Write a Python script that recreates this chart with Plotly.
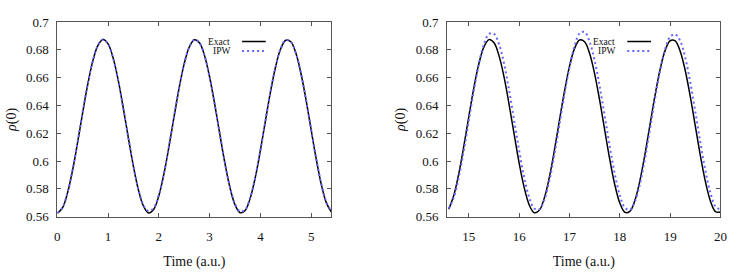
import plotly.graph_objects as go

# ---- data ----
t_left = [round(0.1 * i, 1) for i in range(55)]
exact_left = [0.5625, 0.5662, 0.5769, 0.5933, 0.6135, 0.6350, 0.6554, 0.6721, 0.6833, 0.6875,
              0.6843, 0.6741, 0.6580, 0.6380, 0.6165, 0.5960, 0.5789, 0.5673, 0.5626, 0.5653,
              0.5750, 0.5907, 0.6105, 0.6320, 0.6527, 0.6701, 0.6821, 0.6873, 0.6852, 0.6759,
              0.6605, 0.6410, 0.6195, 0.5987, 0.5810, 0.5685, 0.5628, 0.5644, 0.5733, 0.5882,
              0.6076, 0.6290, 0.6499, 0.6679, 0.6808, 0.6870, 0.6859, 0.6776, 0.6630, 0.6439,
              0.6225, 0.6015, 0.5832, 0.5699, 0.5632]
ipw_left = [0.5626, 0.5664, 0.5772, 0.5937, 0.6139, 0.6354, 0.6557, 0.6723, 0.6834, 0.6875,
            0.6842, 0.6739, 0.6578, 0.6379, 0.6165, 0.5962, 0.5793, 0.5679, 0.5640, 0.5664,
            0.5757, 0.5912, 0.6109, 0.6323, 0.6529, 0.6702, 0.6821, 0.6873, 0.6851, 0.6758,
            0.6604, 0.6410, 0.6197, 0.5991, 0.5815, 0.5692, 0.5637, 0.5651, 0.5738, 0.5885,
            0.6078, 0.6291, 0.6500, 0.6679, 0.6808, 0.6870, 0.6859, 0.6776, 0.6630, 0.6440,
            0.6227, 0.6018, 0.5836, 0.5704, 0.5637]

t_right = [round(14.6 + 0.1 * i, 1) for i in range(55)]
exact_right = [0.5653, 0.5752, 0.5909, 0.6107, 0.6322, 0.6529, 0.6702, 0.6822, 0.6874, 0.6851,
               0.6757, 0.6604, 0.6407, 0.6193, 0.5985, 0.5809, 0.5684, 0.5628, 0.5645, 0.5734,
               0.5884, 0.6078, 0.6292, 0.6501, 0.6681, 0.6809, 0.6871, 0.6859, 0.6775, 0.6628,
               0.6437, 0.6223, 0.6013, 0.5830, 0.5698, 0.5631, 0.5638, 0.5717, 0.5860, 0.6049,
               0.6262, 0.6473, 0.6658, 0.6795, 0.6866, 0.6865, 0.6791, 0.6652, 0.6466, 0.6254,
               0.6041, 0.5854, 0.5713, 0.5636, 0.5633]
ipw_right = [0.5658, 0.5737, 0.5882, 0.6075, 0.6293, 0.6510, 0.6700, 0.6841, 0.6915, 0.6915,
             0.6841, 0.6700, 0.6510, 0.6293, 0.6075, 0.5882, 0.5737, 0.5658, 0.5652, 0.5722,
             0.5859, 0.6046, 0.6262, 0.6480, 0.6675, 0.6826, 0.6918, 0.6930, 0.6858, 0.6723,
             0.6538, 0.6324, 0.6105, 0.5907, 0.5754, 0.5664, 0.5648, 0.5708, 0.5836, 0.6017,
             0.6231, 0.6450, 0.6650, 0.6805, 0.6895, 0.6912, 0.6865, 0.6745, 0.6567, 0.6355,
             0.6135, 0.5933, 0.5772, 0.5673, 0.5652]

y_ticks = [0.56, 0.58, 0.6, 0.62, 0.64, 0.66, 0.68, 0.7]
y_ticklabels = ["0.56", "0.58", "0.6", "0.62", "0.64", "0.66", "0.68", "0.7"]
x_ticks_left = [0, 1, 2, 3, 4, 5]
x_ticks_right = [15, 16, 17, 18, 19, 20]
legend_names = ["Exact", "IPW"]

EXACT_COLOR = "#000000"
IPW_COLOR = "#6666ff"
IPW_DASH = "2px,3px"
FONT = "'Liberation Serif', 'DejaVu Serif', serif"

fig = go.Figure()
fig.add_trace(go.Scatter(x=t_left, y=exact_left, mode="lines", line=dict(color=EXACT_COLOR, width=1.5, shape="spline"),
                         xaxis="x", yaxis="y", showlegend=False))
fig.add_trace(go.Scatter(x=t_left, y=ipw_left, mode="lines", line=dict(color=IPW_COLOR, width=2, dash=IPW_DASH, shape="spline"),
                         xaxis="x", yaxis="y", showlegend=False))
fig.add_trace(go.Scatter(x=t_right, y=exact_right, mode="lines", line=dict(color=EXACT_COLOR, width=1.5, shape="spline"),
                         xaxis="x2", yaxis="y2", showlegend=False))
fig.add_trace(go.Scatter(x=t_right, y=ipw_right, mode="lines", line=dict(color=IPW_COLOR, width=2, dash=IPW_DASH, shape="spline"),
                         xaxis="x2", yaxis="y2", showlegend=False))

W, H = 738, 275
ydom = [(H - 221.7) / H, (H - 16) / H]
xdom1 = [55 / W, 332.5 / W]
xdom2 = [449.7 / W, 726.3 / W]

axis_common = dict(showline=True, linecolor="#555555", linewidth=1, mirror="ticks", ticks="inside",
                   ticklen=4, tickcolor="#555555", showgrid=False, zeroline=False,
                   tickfont=dict(family=FONT, size=13, color="#111111"),
                   title_font=dict(family=FONT, size=14, color="#111111"))
xextra = dict(ticklabelstandoff=8, title=dict(text="Time (a.u.)", standoff=12))
yextra = dict(ticklabelstandoff=5, title=dict(text="<i>ρ</i>(0)", standoff=6))

fig.update_layout(
    width=W, height=H, margin=dict(l=0, r=0, t=0, b=0),
    paper_bgcolor="white", plot_bgcolor="white", showlegend=False,
    xaxis=dict(domain=xdom1, range=[0, 5.4], tickvals=x_ticks_left, anchor="y", **xextra, **axis_common),
    yaxis=dict(domain=ydom, range=[0.56, 0.7], tickvals=y_ticks, ticktext=y_ticklabels, anchor="x",
               **yextra, **axis_common),
    xaxis2=dict(domain=xdom2, range=[14.57, 20], tickvals=x_ticks_right, anchor="y2", **xextra, **axis_common),
    yaxis2=dict(domain=ydom, range=[0.56, 0.7], tickvals=y_ticks, ticktext=y_ticklabels, anchor="x2",
                **yextra, **axis_common),
)

# gnuplot-style legend: text right-aligned, then line sample
for (txt_x, l0, l1) in [(231.5, 242, 266), (621.7, 632, 656)]:
    for i, (name, col, dash) in enumerate([(legend_names[0], EXACT_COLOR, "solid"), (legend_names[1], IPW_COLOR, IPW_DASH)]):
        yy = 36.5 + 10 * i
        fig.add_annotation(x=txt_x / W, y=(H - yy) / H, xref="paper", yref="paper", text=name,
                           showarrow=False, xanchor="right", yanchor="middle",
                           font=dict(family=FONT, size=9.5, color="#111111"))
        fig.add_shape(type="line", xref="paper", yref="paper", x0=l0 / W, x1=l1 / W,
                      y0=(H - yy) / H, y1=(H - yy) / H, line=dict(color=col, width=1.5 if dash == "solid" else 2, dash=dash))

fig.write_html("out.html", config={"displayModeBar": False},
               post_script="document.body.style.margin='0';")
